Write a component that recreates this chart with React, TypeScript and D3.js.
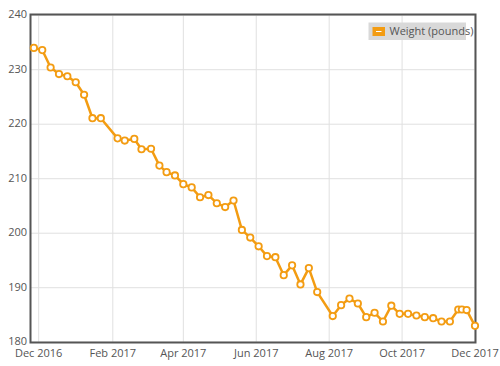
import React from "react";
import * as d3 from "d3";

const dates: string[] = [
  "2016-11-27", "2016-12-04", "2016-12-11", "2016-12-18", "2016-12-25",
  "2017-01-01", "2017-01-08", "2017-01-15", "2017-01-22", "2017-02-05",
  "2017-02-11", "2017-02-19", "2017-02-25", "2017-03-05", "2017-03-12",
  "2017-03-18", "2017-03-25", "2017-04-01", "2017-04-08", "2017-04-15",
  "2017-04-22", "2017-04-29", "2017-05-06", "2017-05-13", "2017-05-20",
  "2017-05-27", "2017-06-03", "2017-06-10", "2017-06-17", "2017-06-24",
  "2017-07-01", "2017-07-08", "2017-07-15", "2017-07-22", "2017-08-04",
  "2017-08-11", "2017-08-18", "2017-08-25", "2017-09-01", "2017-09-08",
  "2017-09-15", "2017-09-22", "2017-09-29", "2017-10-06", "2017-10-13",
  "2017-10-20", "2017-10-27", "2017-11-03", "2017-11-10", "2017-11-17",
  "2017-11-20", "2017-11-24", "2017-12-01",
];

const weights: number[] = [
  234.0, 233.6, 230.4, 229.2, 228.8, 227.7, 225.4, 221.1, 221.1, 217.4,
  217.0, 217.3, 215.4, 215.5, 212.4, 211.2, 210.6, 209.0, 208.4, 206.6,
  207.0, 205.5, 204.8, 206.0, 200.6, 199.2, 197.6, 195.8, 195.6, 192.3,
  194.1, 190.6, 193.6, 189.2, 184.8, 186.8, 188.0, 187.1, 184.6, 185.4,
  183.8, 186.7, 185.2, 185.2, 184.9, 184.6, 184.4, 183.8, 183.8, 186.0,
  186.0, 185.9, 183.0,
];

const xTickDates: string[] = [
  "2016-12-01", "2017-02-01", "2017-04-01", "2017-06-01",
  "2017-08-01", "2017-10-01", "2017-12-01",
];
const yTicks: number[] = [180, 190, 200, 210, 220, 230, 240];
const seriesName = "Weight (pounds)";

const parse = d3.timeParse("%Y-%m-%d");
const fmt = d3.timeFormat("%b %Y");

export default function App() {
  const W = 500;
  const H = 366;
  const left = 30.5;
  const right = 475.5;
  const top = 14.5;
  const bottom = 342.5;

  const x = d3
    .scaleTime()
    .domain([parse("2016-11-24") as Date, parse("2017-12-01") as Date])
    .range([30.3, 475]);
  const y = d3.scaleLinear().domain([180, 240]).range([342.2, 15.2]);

  const data = dates.map((d, i) => ({ date: parse(d) as Date, v: weights[i] }));
  const line = d3
    .line<{ date: Date; v: number }>()
    .x((d) => x(d.date))
    .y((d) => y(d.v));

  const orange = "#f39c12";
  const font = "'Open Sans', sans-serif";

  return (
    <svg
      width={W}
      height={H}
      style={{ position: "absolute", left: 0, top: 0, background: "#fff" }}
    >
      {/* grid */}
      {yTicks.map((t) => (
        <line key={"gy" + t} x1={left} x2={right} y1={y(t)} y2={y(t)} stroke="#e0e0e0" strokeWidth={1} />
      ))}
      {xTickDates.map((t) => {
        const xx = x(parse(t) as Date);
        return (
          <line key={"gx" + t} x1={xx} x2={xx} y1={top} y2={bottom} stroke="#e0e0e0" strokeWidth={1} />
        );
      })}
      {/* frame */}
      <rect x={left} y={top} width={right - left} height={bottom - top} fill="none" stroke="#555" strokeWidth={2} />
      {/* y labels */}
      {yTicks.map((t) => (
        <text key={"ly" + t} x={27} y={y(t) - 1} dy="0.35em" textAnchor="end" fontFamily={font} fontSize={11} fill="#555">
          {t}
        </text>
      ))}
      {/* x labels */}
      {xTickDates.map((t) => {
        const dt = parse(t) as Date;
        return (
          <text key={"lx" + t} x={x(dt)} y={356.5} textAnchor="middle" fontFamily={font} fontSize={11} fill="#555">
            {fmt(dt)}
          </text>
        );
      })}
      {/* series */}
      <path d={line(data) || ""} fill="none" stroke={orange} strokeWidth={2.5} strokeLinejoin="round" />
      {data.map((d, i) => (
        <circle key={"p" + i} cx={x(d.date)} cy={y(d.v)} r={3.2} fill="#fff" stroke={orange} strokeWidth={1.8} />
      ))}
      {/* legend */}
      <rect x={368.5} y={22.5} width={97.5} height={17.5} fill="#d9d9d9" />
      <rect x={372.5} y={27} width={12.5} height={9} fill={orange} />
      <line x1={376} x2={381.5} y1={31.5} y2={31.5} stroke="#fff" strokeWidth={1} />
      <text x={389.5} y={31.5} dy="0.35em" fontFamily={font} fontSize={11} fill="#555">
        {seriesName}
      </text>
    </svg>
  );
}
